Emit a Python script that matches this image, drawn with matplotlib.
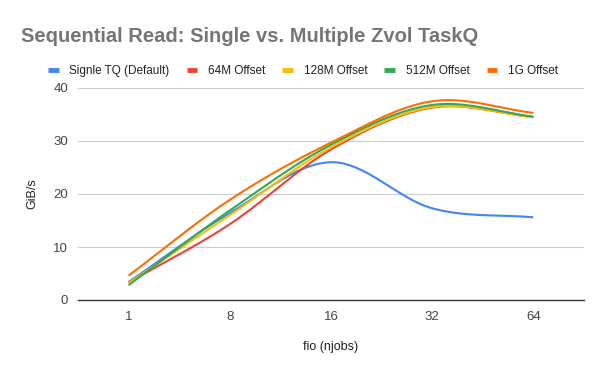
import numpy as np
import matplotlib
matplotlib.use("Agg")
from matplotlib import pyplot as plt

plt.rcParams['font.family'] = ['Liberation Sans', 'DejaVu Sans']

# data
njobs = ["1", "8", "16", "32", "64"]
single_tq = [3.4, 16.4, 26.0, 17.3, 15.6]
off_64m = [3.3, 14.3, 28.4, 36.3, 34.5]
off_128m = [3.2, 16.0, 28.8, 36.4, 34.5]
off_512m = [2.8, 16.9, 29.3, 36.8, 34.6]
off_1g = [4.6, 18.9, 29.7, 37.5, 35.3]

series = [
    ("Signle TQ (Default)", single_tq, "#4285f4"),
    ("64M Offset", off_64m, "#ea4335"),
    ("128M Offset", off_128m, "#fbbc04"),
    ("512M Offset", off_512m, "#34a853"),
    ("1G Offset", off_1g, "#ff6d01"),
]


def smooth(y, n=40):
    # catmull-rom through the points, like the sheets "smooth" option
    y = np.asarray(y, dtype=float)
    x = np.arange(len(y), dtype=float)
    m = np.zeros_like(y)
    m[1:-1] = (y[2:] - y[:-2]) / 2
    m[0] = y[1] - y[0]
    m[-1] = y[-1] - y[-2]
    xs, ys = [], []
    for i in range(len(y) - 1):
        t = np.linspace(0, 1, n)
        h00 = 2 * t**3 - 3 * t**2 + 1
        h10 = t**3 - 2 * t**2 + t
        h01 = -2 * t**3 + 3 * t**2
        h11 = t**3 - t**2
        xs.append(x[i] + t)
        ys.append(h00 * y[i] + h10 * m[i] + h01 * y[i + 1] + h11 * m[i + 1])
    return np.concatenate(xs), np.concatenate(ys)


fig = plt.figure(figsize=(6, 3.71), dpi=100)
ax = fig.add_axes([78 / 600, 1 - 300 / 371, 506 / 600, 212 / 371])

for name, vals, col in series:
    sx, sy = smooth(vals)
    ax.plot(sx, sy, color=col, lw=1.5, label=name, solid_capstyle='butt')

ax.set_xlim(-0.5, len(njobs) - 0.5)
ax.set_ylim(0, 40)
ax.set_xticks(range(len(njobs)))
ax.set_xticklabels(njobs)
ax.set_yticks([0, 10, 20, 30, 40])
ax.grid(axis='y', color='#cccccc', lw=0.8)
ax.set_axisbelow(True)
for s in ['top', 'right', 'left']:
    ax.spines[s].set_visible(False)
ax.spines['bottom'].set_color('#333333')
ax.spines['bottom'].set_linewidth(1.0)
ax.tick_params(axis='both', length=0, labelsize=9.5, colors='#444444')
ax.tick_params(axis='x', pad=8)
ax.tick_params(axis='y', pad=7)
ax.set_xlabel("fio (njobs)", fontsize=9, color='#222222', labelpad=13)
ax.set_ylabel("GiB/s", fontsize=9, color='#222222', labelpad=11)

fig.text(21 / 600, 1 - 37 / 371, "Sequential Read: Single vs. Multiple Zvol TaskQ",
         fontsize=14.5, fontweight='bold', color='#757575', va='center', ha='left')

handles, labels = ax.get_legend_handles_labels()
leg = fig.legend(handles, labels, loc='center', bbox_to_anchor=(303 / 600, 1 - 71 / 371),
                 ncol=5, frameon=False, fontsize=8.5, handlelength=0.9, handletextpad=0.9,
                 columnspacing=1.45, labelcolor='#222222')
for h in leg.legend_handles:
    h.set_linewidth(3.5)

fig.savefig("out.png", dpi=100)
